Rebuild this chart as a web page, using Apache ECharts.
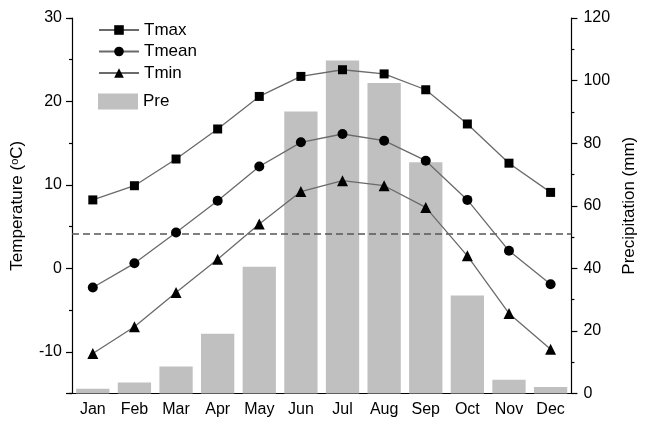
<!DOCTYPE html>
<html>
<head>
<meta charset="utf-8">
<script src="https://cdn.jsdelivr.net/npm/echarts@6/dist/echarts.min.js"></script>
<style>
  html, body { margin: 0; padding: 0; background: #fff; }
  #chart { width: 646px; height: 427px; }
</style>
</head>
<body>
<div id="chart"></div>
<script>
// Monthly climate normals
const months = ['Jan', 'Feb', 'Mar', 'Apr', 'May', 'Jun', 'Jul', 'Aug', 'Sep', 'Oct', 'Nov', 'Dec'];
const tmax  = [8.2, 9.9, 13.1, 16.7, 20.6, 23.0, 23.8, 23.3, 21.4, 17.3, 12.6, 9.1];
const tmean = [-2.3, 0.6, 4.3, 8.1, 12.2, 15.1, 16.1, 15.3, 12.9, 8.2, 2.1, -1.9];
const tmin  = [-10.2, -7.0, -2.9, 1.1, 5.3, 9.2, 10.5, 9.9, 7.3, 1.5, -5.4, -9.7];
const pre   = [1.5, 3.5, 8.6, 19.1, 40.5, 90.1, 106.4, 99.2, 73.9, 31.3, 4.4, 2.1];
const refTemp = 4.1;

const FONT = 'Liberation Sans, Arial, sans-serif';
const axisLineStyle = { color: '#000', width: 1.2 };

const chart = echarts.init(document.getElementById('chart'));

const lineSeries = (name, data, symbol, size) => ({
  name: name,
  type: 'line',
  data: data,
  yAxisIndex: 0,
  symbol: symbol,
  symbolSize: size,
  itemStyle: { color: '#000' },
  lineStyle: { color: '#6a6a6a', width: 1.3 },
  z: 5
});

chart.setOption({
  animation: false,
  textStyle: { fontFamily: FONT },
  grid: { left: 72, right: 67, top: 18, bottom: 33.5, containLabel: false },
  legend: [
    {
      data: ['Tmax', 'Tmean', 'Tmin'],
      orient: 'vertical',
      left: 98,
      top: 21.5,
      padding: 0,
      itemWidth: 40,
      itemHeight: 12,
      itemGap: 4.5,
      textStyle: { fontSize: 17, color: '#000', fontFamily: FONT }
    },
    {
      data: [{ name: 'Pre', icon: 'rect' }],
      orient: 'vertical',
      left: 98,
      top: 93,
      padding: 0,
      itemWidth: 40,
      itemHeight: 16,
      textStyle: { fontSize: 17, color: '#000', fontFamily: FONT }
    }
  ],
  xAxis: {
    type: 'category',
    data: months,
    boundaryGap: true,
    axisLine: { onZero: false, lineStyle: axisLineStyle },
    axisTick: { alignWithLabel: true, length: 5, lineStyle: axisLineStyle },
    axisLabel: { color: '#000', fontSize: 16, margin: 8, fontFamily: FONT },
    splitLine: { show: false }
  },
  yAxis: [
    {
      type: 'value',
      position: 'left',
      min: -15,
      max: 30,
      minInterval: 10,
      maxInterval: 10,
      name: 'Temperature ({sup|o}C)',
      nameLocation: 'middle',
      nameGap: 46,
      nameTextStyle: {
        fontSize: 17, color: '#000', fontFamily: FONT,
        rich: { sup: { fontSize: 11, verticalAlign: 'top', color: '#000', fontFamily: FONT } }
      },
      axisLine: { show: true, onZero: false, lineStyle: axisLineStyle },
      axisTick: { show: true, length: 6, lineStyle: axisLineStyle },
      axisLabel: {
        color: '#000', fontSize: 16, margin: 10, fontFamily: FONT,
        formatter: v => (v % 10 === 0 ? String(v) : '')
      },
      splitLine: { show: false }
    },
    {
      type: 'value',
      position: 'right',
      min: 0,
      max: 120,
      interval: 20,
      name: 'Precipitation (mm)',
      nameLocation: 'middle',
      nameGap: 46,
      nameTextStyle: { fontSize: 17, color: '#000', fontFamily: FONT },
      axisLine: { show: true, onZero: false, lineStyle: axisLineStyle },
      axisTick: { show: true, length: 6, lineStyle: axisLineStyle },
      minorTick: { show: true, splitNumber: 2, length: 3, lineStyle: axisLineStyle },
      axisLabel: { color: '#000', fontSize: 16, margin: 12, fontFamily: FONT },
      splitLine: { show: false }
    },
    {
      // minor ticks of the temperature axis (every 5 degrees between the labelled ones)
      type: 'value',
      position: 'left',
      min: -15,
      max: 30,
      interval: 10,
      axisLine: { show: false, onZero: false },
      axisTick: { show: true, length: 3, lineStyle: axisLineStyle },
      axisLabel: { show: false },
      splitLine: { show: false }
    }
  ],
  series: [
    {
      name: 'Pre',
      type: 'bar',
      data: pre,
      yAxisIndex: 1,
      barCategoryGap: '20%',
      itemStyle: { color: '#c0c0c0' },
      z: 1
    },
    Object.assign(lineSeries('Tmax', tmax, 'rect', 9), {
      markLine: {
        silent: true,
        symbol: ['none', 'none'],
        label: { show: false },
        lineStyle: { color: '#555', width: 1.5, type: [7, 4] },
        data: [{ yAxis: refTemp }]
      }
    }),
    lineSeries('Tmean', tmean, 'circle', 10),
    lineSeries('Tmin', tmin, 'triangle', 11)
  ]
});
</script>
</body>
</html>
